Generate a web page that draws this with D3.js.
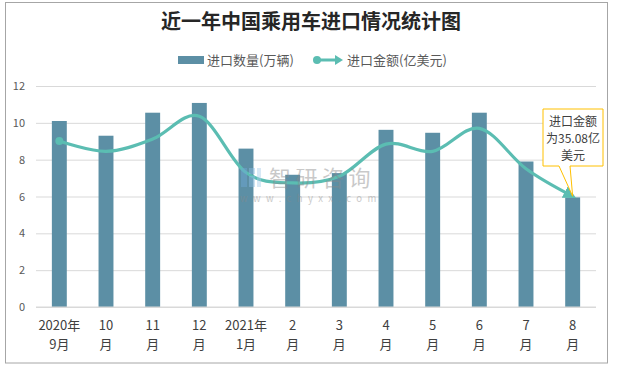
<!DOCTYPE html>
<html><head><meta charset="utf-8">
<script src="https://cdn.jsdelivr.net/npm/d3@7"></script>
<style>
body{margin:0;background:#fff;}
text{font-family:"Noto Sans CJK SC","Microsoft YaHei",sans-serif;}
</style></head>
<body><svg id="chart" width="617" height="367"></svg>
<script>
const categories = ["2020年\n9月","10\n月","11\n月","12\n月","2021年\n1月","2\n月","3\n月","4\n月","5\n月","6\n月","7\n月","8\n月"];
const volume = [10.1, 9.3, 10.55, 11.08, 8.6, 7.18, 7.27, 9.62, 9.46, 10.55, 7.9, 5.95];   // 万辆
const amount = [52.6, 49.3, 53.2, 60.4, 42.6, 39.3, 41.4, 51.6, 49.3, 56.6, 43.8, 35.08]; // 亿美元
const yTicks = [0, 2, 4, 6, 8, 10, 12];
const title = "近一年中国乘用车进口情况统计图";
const seriesNames = ["进口数量(万辆)", "进口金额(亿美元)"];
const calloutLines = ["进口金额", "为35.08亿", "美元"];

const svg = d3.select("#chart");
const barColor = "#5C8FA5", lineColor = "#5BBDB2";
const m = {left: 36, right: 596, top: 86, bottom: 307};

// outer frame
svg.append("rect").attr("x", 5.5).attr("y", 2.5).attr("width", 602).attr("height", 360.5)
  .attr("fill", "#fff").attr("stroke", "#A6A6A6").attr("stroke-width", 1);

const x = d3.scaleBand().domain(categories).range([m.left, m.right]).paddingInner(0.68).paddingOuter(0.34);
const y = d3.scaleLinear().domain([0, 12]).range([m.bottom, m.top]);
const y2 = d3.scaleLinear().domain([0, 70]).range([m.bottom, m.top]);

// title
svg.append("text").attr("x", 311).attr("y", 29).attr("text-anchor", "middle")
  .attr("font-size", 20).attr("font-weight", "bold").attr("fill", "#262626").text(title);

// legend
const lg = svg.append("g");
lg.append("rect").attr("x", 178).attr("y", 56).attr("width", 26).attr("height", 8).attr("fill", barColor);
lg.append("text").attr("x", 207).attr("y", 64.5).attr("font-size", 13).attr("fill", "#595959").text(seriesNames[0]);
lg.append("line").attr("x1", 317).attr("x2", 336).attr("y1", 60).attr("y2", 60).attr("stroke", lineColor).attr("stroke-width", 3);
lg.append("circle").attr("cx", 317).attr("cy", 60).attr("r", 4).attr("fill", lineColor);
lg.append("path").attr("d", "M335,55 L343,60 L335,65 Z").attr("fill", lineColor);
lg.append("text").attr("x", 347).attr("y", 64.5).attr("font-size", 13).attr("fill", "#595959").text(seriesNames[1]);

// grid + y axis
const yAxis = d3.axisLeft(y).tickValues(yTicks).tickSize(-(m.right - m.left)).tickPadding(11);
const gy = svg.append("g").attr("transform", `translate(${m.left},0)`).call(yAxis);
gy.select(".domain").remove();
gy.selectAll(".tick line").attr("stroke", "#D9D9D9");
gy.selectAll(".tick text").attr("font-size", 11).attr("fill", "#595959")
  .attr("font-family", "Liberation Sans, Arial, sans-serif");

// bars
svg.append("g").selectAll("rect").data(volume).join("rect")
  .attr("x", (d, i) => x(categories[i])).attr("width", x.bandwidth())
  .attr("y", d => y(d)).attr("height", d => y(0) - y(d)).attr("fill", barColor);

// baseline
svg.append("line").attr("x1", m.left).attr("x2", m.right).attr("y1", m.bottom).attr("y2", m.bottom)
  .attr("stroke", "#D9D9D9");

// x labels
const xl = svg.append("g");
categories.forEach((c, i) => {
  const cx = x(c) + x.bandwidth() / 2;
  c.split("\n").forEach((t, j) => {
    xl.append("text").attr("x", cx).attr("y", 330 + j * 19).attr("text-anchor", "middle")
      .attr("font-size", 13).attr("fill", "#404040").text(t);
  });
});

// line
svg.append("defs").append("marker").attr("id", "arr").attr("viewBox", "0 0 10 10")
  .attr("refX", 7).attr("refY", 5).attr("markerWidth", 4).attr("markerHeight", 4)
  .attr("markerUnits", "strokeWidth").attr("orient", "auto")
  .append("path").attr("d", "M0,0 L10,5 L0,10 Z").attr("fill", lineColor);
const line = d3.line().x((d, i) => x(categories[i]) + x.bandwidth() / 2).y(d => y2(d))
  .curve(d3.curveCardinal.tension(0));
svg.append("path").datum(amount).attr("d", line).attr("fill", "none")
  .attr("stroke", lineColor).attr("stroke-width", 3.2).attr("marker-end", "url(#arr)");
svg.append("circle").attr("cx", x(categories[0]) + x.bandwidth() / 2).attr("cy", y2(amount[0]))
  .attr("r", 4).attr("fill", lineColor);

// watermark (drawn over the plot, semi-transparent)
const wm = svg.append("g").attr("opacity", 0.45);
wm.append("rect").attr("x", 241).attr("y", 168).attr("width", 6).attr("height", 19).attr("fill", "#6FA8D6");
wm.append("rect").attr("x", 249).attr("y", 168).attr("width", 6).attr("height", 6).attr("fill", "#8DBFE3");
wm.append("rect").attr("x", 249).attr("y", 176).attr("width", 6).attr("height", 11).attr("fill", "#8DBFE3");
wm.append("rect").attr("x", 257).attr("y", 168).attr("width", 4).attr("height", 19).attr("fill", "#A9D0EC");
wm.append("text").attr("x", 269).attr("y", 186).attr("font-size", 22).attr("letter-spacing", 4.5)
  .attr("fill", "#8A8A8A").text("智研咨询");
wm.append("text").attr("x", 240).attr("y", 202).attr("font-size", 9.5).attr("letter-spacing", 5.4)
  .attr("fill", "#8A8A8A").attr("font-family", "DejaVu Sans, sans-serif").text("www.chyxx.com");

// callout
const px = x(categories[11]) + x.bandwidth() / 2, py = y2(amount[11]);
const co = svg.append("g");
co.append("path")
  .attr("d", `M543,109 L603,109 L603,166 L570,166 L${px},${py} L559,166 L543,166 Z`)
  .attr("fill", "#fff").attr("stroke", "#FFC000").attr("stroke-width", 1);
calloutLines.forEach((t, j) => {
  co.append("text").attr("x", 573).attr("y", 126 + j * 17).attr("text-anchor", "middle")
    .attr("font-size", 12).attr("fill", "#404040").text(t);
});
</script></body></html>
